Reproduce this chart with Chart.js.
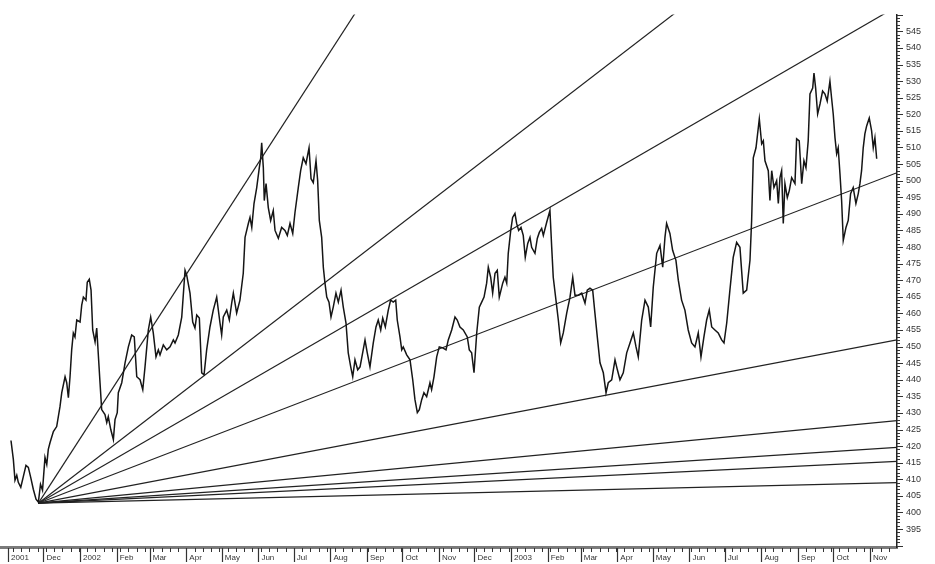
<!DOCTYPE html>
<html>
<head>
<meta charset="utf-8">
<script src="https://cdn.jsdelivr.net/npm/chart.js@4.4.1/dist/chart.umd.min.js"></script>
<style>
	html, body { margin: 0; padding: 0; background: #fff; }
	#wrap { width: 935px; height: 564px; }
</style>
</head>
<body>
<div id="wrap"><canvas id="gann"></canvas></div>
<script>
// x values are calendar days counted from 1 Nov 2001
var monthTickDays=[0,30,61,92,120,151,181,212,242,273,304,334,365,395,426,457,485,516,546,577,607,638,669,699,730];
var monthLabels=["2001","Dec","2002","Feb","Mar","Apr","May","Jun","Jul","Aug","Sep","Oct","Nov","Dec","2003","Feb","Mar","Apr","May","Jun","Jul","Aug","Sep","Oct","Nov"];
var firstMonday=4;
var yTickValues=[395,400,405,410,415,420,425,430,435,440,445,450,455,460,465,470,475,480,485,490,495,500,505,510,515,520,525,530,535,540,545];

var priceDays=[2.5,4.5,5.9,7.4,8.7,10.8,13.0,15.2,17.2,19.2,21.4,23.7,25.7,27.5,29.2,31.3,32.8,34.1,35.6,38.4,
	41.2,44.0,45.5,48.3,49.7,51.1,52.5,53.9,55.3,56.7,58.2,61.0,62.4,63.8,66.0,67.1,68.8,70.3,71.7,73.7,
	75.1,77.9,79.3,82.1,83.6,84.9,87.0,89.2,90.6,92.5,93.4,96.3,99.1,101.9,104.7,106.9,109.0,111.8,114.1,116.0,
	118.8,120.8,123.0,125.3,127.3,128.7,131.5,134.4,137.2,140.0,141.4,144.2,147.1,149.9,151.3,154.1,156.4,158.3,159.8,162.0,
	164.0,166.0,168.2,171.0,173.8,176.7,179.5,180.9,182.3,185.2,187.4,189.4,190.8,193.6,196.4,199.2,200.7,203.5,204.9,206.4,
	208.3,210.6,212.8,214.0,214.8,216.2,217.0,218.5,220.4,222.4,224.6,226.1,228.9,231.7,234.5,236.5,238.8,241.1,243.0,245.8,
	247.8,250.0,252.3,254.9,256.6,258.5,260.8,262.2,263.6,265.6,267.0,268.4,269.9,271.8,273.5,275.4,277.7,279.7,282.0,283.9,
	286.2,288.1,290.2,291.9,293.8,296.1,298.1,300.3,302.3,304.2,306.5,309.3,311.6,313.5,315.6,317.3,319.5,322.0,324.0,326.2,
	328.3,329.6,331.9,333.4,334.7,337.6,340.4,342.7,344.6,346.6,348.3,350.3,352.2,354.5,357.3,358.7,360.7,363.0,365.2,368.1,
	370.9,372.8,375.7,378.5,380.4,382.7,385.5,388.9,390.6,392.6,394.6,396.9,399.1,401.1,403.1,405.3,406.7,408.7,410.4,412.4,
	414.3,416.0,418.9,420.8,422.3,423.6,425.7,427.3,429.3,430.7,432.4,434.4,436.3,438.0,440.1,442.0,443.4,446.2,448.2,449.9,
	451.9,453.3,456.1,458.9,460.4,461.7,464.0,466.0,468.0,470.2,473.1,475.9,478.2,480.1,482.9,485.8,488.6,490.5,492.8,495.1,
	497.0,499.0,501.3,504.1,506.4,508.3,511.2,514.0,516.0,518.2,521.0,523.9,526.7,529.5,531.8,533.7,536.6,539.4,542.2,544.2,
	546.4,549.3,552.1,554.4,556.3,557.7,560.5,562.8,565.6,567.6,570.4,573.2,576.0,578.9,581.7,584.5,586.8,589.3,591.6,593.8,
	595.9,598.6,601.4,604.3,606.3,608.6,611.3,614.1,617.0,619.8,622.6,625.5,628.3,629.7,631.1,633.4,636.2,638.2,639.6,641.0,
	643.8,645.2,646.7,648.6,650.9,652.3,653.7,655.1,656.5,657.9,659.9,661.6,663.6,666.4,667.8,670.0,672.1,674.0,675.7,677.6,
	679.1,681.4,682.5,683.9,685.6,687.6,689.8,691.8,693.7,696.0,697.4,698.8,700.3,701.7,703.0,704.5,705.9,707.3,709.6,711.5,
	713.5,715.7,718.0,720.0,721.4,722.8,724.2,725.6,727.1,729.3,731.3,732.7,734.1,735.6];
var priceValues=[421.7,416,409.7,411.2,409.1,407.6,410.9,414.2,413.6,410.6,407,404,403.1,408.5,406.7,416.6,414.5,419,421.1,424.4,
	425.9,431.9,436.1,440.9,439.1,434.6,440.9,449,454.1,452.9,458,457.4,462.5,464.9,464,469.4,470.3,467,455,451.4,
	455.6,439.1,431,429.5,427.1,428.9,425,422,428,430.1,436.1,439.1,445.1,449.9,453.5,452.9,440.9,440,437,443.9,
	455,458.9,454.1,446.9,449,447.5,450.5,449,449.9,452,451.1,453.5,458.9,473,471.5,466.1,457.4,455.6,459.5,458.6,
	442.1,441.5,449,455.9,461,464.9,457.1,453.5,458.9,461,458,463.1,466.1,460.1,464,472.1,482.9,487.1,488.9,485.9,
	493.1,497.9,503.9,506.9,511.4,503.9,494,499.1,491.9,488,491,485,482.6,485.9,485,483.5,487.1,484.1,490.4,497.9,
	503,506.9,505.1,509.9,500.6,499.4,506,500,488,482.9,473.9,469.1,464.9,463.4,458.9,461.9,466.1,463.4,467,461.9,
	457.1,448.1,443.9,440.9,446,443,443.9,448.1,452,448.1,443.9,451.1,455.9,458,455,458.6,455.9,461,464,463.4,
	464,458,452.9,449,449.9,447.5,446,440,434,430.1,431,434,436.1,434.9,439.1,437,440.9,446.9,449.9,449.6,
	449,452,455,458.9,458,455.9,455,452.9,449,448.1,442.1,454.1,461.9,463.4,464.9,469.1,473.9,470.9,466.1,472.1,
	473,464.9,469.1,470.9,469.1,478.1,485,488.9,490.1,487.1,485,485.9,483.5,476.9,481.1,482.9,479.9,478.1,482.6,484.4,
	485.6,483.5,487.4,491,479.9,470.9,464,458,451.1,454.1,460.1,464.9,470.9,465.5,465.5,466.1,463.1,467,467.6,467,
	460.1,452.9,445.1,442.1,436.1,439.1,440,446,443,440,442.1,448.1,451.1,454.1,449.9,446.9,458,464,461.9,455.9,
	467.9,478.1,480.5,473.9,482.9,487.1,484.1,479,476,470,464,461,455,451.1,449.9,454.1,446.9,452.9,458,461,
	455.9,455,454.1,452,451.1,457.1,467,476.9,481.4,479.9,466.1,467,476,488,506.9,509.9,518.6,511.1,512,506,
	503,494,503,497.9,500,493.1,500.9,503,487.1,499.1,494.9,497,500.9,499.1,512.6,512,499.1,506,503.9,512,
	526.1,527.9,532.4,527.9,520.1,523.1,527,526.1,524,530,524.9,520.1,512.9,508.1,509.9,502.1,494,482,485.9,488,
	496.1,497.9,493.1,496.1,499.1,503,509.9,514.1,516.5,518.9,515,509.9,512.9,506.6];

// Gann fan: common origin at the Nov 2001 low, end values at the right edge
var fanOriginDay=25.7;
var fanOriginValue=402.8;
var fanEndDay=752.8;
var fanEndValues=[803,602,552.5,502.4,452,427.7,419.6,415.4,409];

var pricePoints=[];
for (var i=0; i<Math.min(priceDays.length, priceValues.length); i++) {
	pricePoints.push({x: priceDays[i], y: priceValues[i]});
}

var datasets=[{
	data: pricePoints,
	borderColor: "#151515",
	borderWidth: 1.5,
	pointRadius: 0,
	tension: 0
}];
fanEndValues.forEach(function(v) {
	datasets.push({
		data: [{x: fanOriginDay, y: fanOriginValue}, {x: fanEndDay, y: v}],
		borderColor: "#222",
		borderWidth: 1.2,
		pointRadius: 0
	});
});

// small tick marks on both axes
var tickMarks={
	id: 'tickMarks',
	afterDraw: function(chart) {
		var ctx=chart.ctx, xs=chart.scales.x, ys=chart.scales.y, a=chart.chartArea;
		ctx.save();
		ctx.strokeStyle="#333";
		ctx.lineWidth=1;
		ctx.beginPath();
		for (var v=Math.ceil(ys.min); v<=ys.max; v++) {
			var py=Math.round(ys.getPixelForValue(v))+0.5;
			var len=(v%5==0) ? 6 : 3;
			ctx.moveTo(a.right, py);
			ctx.lineTo(a.right+len, py);
		}
		for (var d=firstMonday; d<xs.max; d+=7) {
			var px=Math.round(xs.getPixelForValue(d))+0.5;
			ctx.moveTo(px, a.bottom+1);
			ctx.lineTo(px, a.bottom+5);
		}
		ctx.stroke();
		ctx.beginPath();
		ctx.lineWidth=1.2;
		monthTickDays.forEach(function(d) {
			var px=Math.round(xs.getPixelForValue(d))+0.5;
			ctx.moveTo(px, a.bottom+1);
			ctx.lineTo(px, a.bottom+15);
		});
		ctx.stroke();
		ctx.restore();
	}
};

window.onload=function() {
	new Chart(document.getElementById('gann').getContext('2d'), {
		type: 'line',
		data: {datasets: datasets},
		plugins: [tickMarks],
		options: {
			responsive: true,
			maintainAspectRatio: false,
			animation: false,
			layout: {padding: {top: 13, left: 0, right: 0, bottom: 0}},
			plugins: {legend: {display: false}, tooltip: {enabled: false}},
			scales: {
				x: {
					type: 'linear',
					position: 'bottom',
					min: -6.8,
					max: 752.8,
					afterFit: function(s) { s.height=17; },
					afterBuildTicks: function(s) {
						s.ticks=monthTickDays.map(function(d) { return {value: d}; });
					},
					border: {display: true, color: "#7a7a7a", width: 3},
					grid: {drawOnChartArea: false, drawTicks: false},
					ticks: {
						align: 'start',
						labelOffset: 3,
						padding: 6,
						maxRotation: 0,
						autoSkip: false,
						color: "#333",
						font: {family: "Liberation Sans", size: 8},
						callback: function(val, idx) { return monthLabels[idx]; }
					}
				},
				y: {
					type: 'linear',
					position: 'right',
					min: 389.6,
					max: 550.1,
					afterFit: function(s) { s.width=38; },
					afterBuildTicks: function(s) {
						s.ticks=yTickValues.map(function(v) { return {value: v}; });
					},
					border: {display: true, color: "#222", width: 1.5},
					grid: {drawOnChartArea: false, drawTicks: false},
					ticks: {
						padding: 9,
						color: "#333",
						font: {family: "Liberation Sans", size: 9},
						callback: function(val) { return val; }
					}
				}
			}
		}
	});
};
</script>
</body>
</html>
